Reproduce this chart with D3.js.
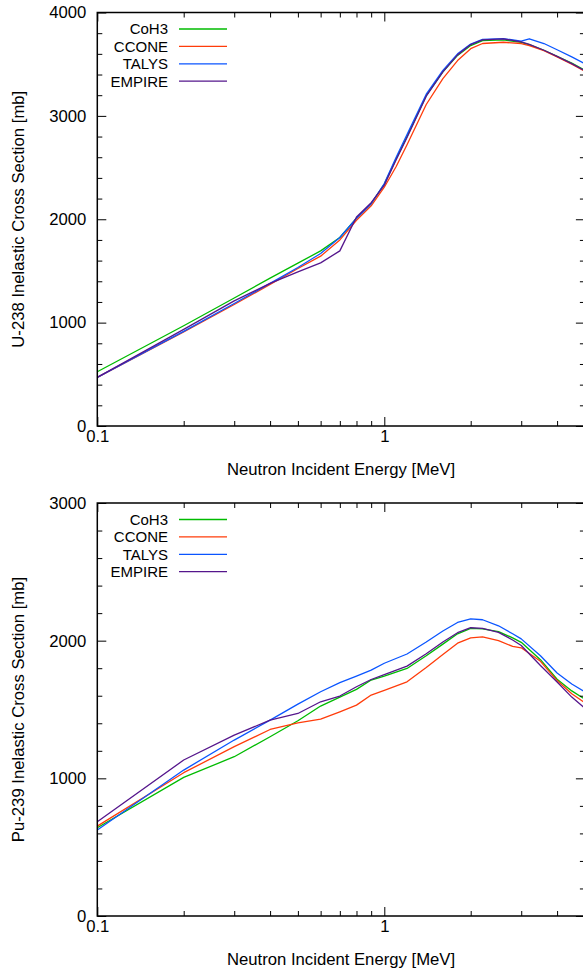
<!DOCTYPE html>
<html>
<head>
<meta charset="utf-8">
<script src="https://cdn.jsdelivr.net/npm/d3@7"></script>
<style>
  html, body { margin: 0; padding: 0; background: #fff; }
  svg { display: block; }
  text { font-family: "Liberation Sans", Arial, sans-serif; fill: #000; }
</style>
</head>
<body>
<svg id="chart" width="583" height="974"></svg>
<script>
// ---------------- DATA ----------------
const seriesNames = ["CoH3", "CCONE", "TALYS", "EMPIRE"];
const seriesColors = ["#00bb00", "#ff3c0a", "#0a55ff", "#55168c"];

// U-238 panel
const energyU238 = [0.1, 0.2, 0.3, 0.4, 0.5, 0.6, 0.7, 0.8, 0.9, 1.0, 1.1, 1.2, 1.4, 1.6, 1.8, 2.0, 2.2, 2.6, 3.0, 3.2, 3.6, 4.0, 4.5, 5.0];
const u238CoH3   = [525, 970, 1238, 1430, 1575, 1694, 1823, 2010, 2150, 2340, 2585, 2800, 3195, 3425, 3585, 3680, 3728, 3735, 3712, 3690, 3635, 3575, 3510, 3440];
const u238CCONE  = [470, 910, 1175, 1370, 1524, 1643, 1800, 1990, 2130, 2310, 2510, 2720, 3110, 3360, 3535, 3650, 3700, 3712, 3700, 3680, 3630, 3570, 3500, 3430];
const u238TALYS  = [470, 915, 1185, 1380, 1533, 1668, 1823, 2010, 2150, 2345, 2600, 2820, 3210, 3440, 3600, 3695, 3740, 3748, 3722, 3746, 3700, 3640, 3570, 3505];
const u238EMPIRE = [470, 935, 1211, 1380, 1490, 1578, 1694, 2022, 2160, 2330, 2575, 2790, 3190, 3425, 3590, 3690, 3735, 3745, 3715, 3692, 3635, 3575, 3505, 3435];

// Pu-239 panel
const energyPu239 = [0.1, 0.2, 0.3, 0.4, 0.5, 0.6, 0.7, 0.8, 0.9, 1.0, 1.2, 1.4, 1.6, 1.8, 2.0, 2.2, 2.5, 2.8, 3.0, 3.5, 4.0, 4.5, 5.0];
const pu239CoH3   = [641, 1007, 1157, 1302, 1418, 1525, 1590, 1646, 1714, 1743, 1798, 1890, 1975, 2050, 2089, 2085, 2066, 2020, 1988, 1862, 1720, 1635, 1575];
const pu239CCONE  = [653, 1041, 1230, 1355, 1403, 1430, 1483, 1532, 1605, 1639, 1701, 1805, 1900, 1982, 2021, 2027, 2000, 1958, 1948, 1850, 1710, 1615, 1548];
const pu239TALYS  = [625, 1060, 1278, 1423, 1539, 1629, 1695, 1743, 1786, 1836, 1903, 1990, 2070, 2132, 2159, 2152, 2108, 2050, 2013, 1890, 1765, 1685, 1628];
const pu239EMPIRE = [684, 1133, 1314, 1423, 1471, 1556, 1598, 1665, 1718, 1753, 1815, 1905, 1990, 2058, 2094, 2090, 2060, 2005, 1965, 1820, 1700, 1590, 1510];

// ticks
const xDomain = [0.1, 5];
const xMajorTicks = [0.1, 1];
const xMinorTicks = [0.2, 0.3, 0.4, 0.5, 0.6, 0.7, 0.8, 0.9, 2, 3, 4];
const yTicksU238 = [0, 1000, 2000, 3000, 4000];
const yTicksPu239 = [0, 1000, 2000, 3000];
const xTitle = "Neutron Incident Energy [MeV]";

// ---------------- DRAW ----------------
const svg = d3.select("#chart");
const L = 97.3, R = 584.9;
const FS = "16.7px";
const LEG_FS = "15px";

function panel(opts) {
  const { top, bottom, yMax, yTicks, energy, series, yTitle } = opts;
  const g = svg.append("g");
  const x = d3.scaleLog().domain(xDomain).range([L, R]);
  const y = d3.scaleLinear().domain([0, yMax]).range([bottom, top]);
  const yMinor = d3.range(0, yMax + 1, 200).filter(v => !yTicks.includes(v));

  // series lines
  const line = d3.line().x((d, i) => x(energy[i])).y(d => y(d));
  series.forEach((s, k) => {
    g.append("path")
      .datum(s)
      .attr("d", line)
      .attr("fill", "none")
      .attr("stroke", seriesColors[k])
      .attr("stroke-width", 1.3)
      .attr("stroke-linejoin", "round");
  });

  const styleAxis = sel => {
    sel.select(".domain").remove();
    sel.selectAll(".tick line").attr("stroke", "#000").attr("stroke-width", 1);
    sel.selectAll(".tick text").style("font-size", FS).attr("fill", "#000");
  };

  // bottom axis
  g.append("g").attr("transform", `translate(0,${bottom})`)
    .call(d3.axisBottom(x).tickValues(xMajorTicks).tickSize(-9).tickPadding(4)
      .tickFormat(d => d === 1 ? "1" : "0.1"))
    .call(styleAxis);
  g.append("g").attr("transform", `translate(0,${bottom})`)
    .call(d3.axisBottom(x).tickValues(xMinorTicks).tickSize(-5).tickFormat(""))
    .call(styleAxis);
  // top axis
  g.append("g").attr("transform", `translate(0,${top})`)
    .call(d3.axisTop(x).tickValues(xMajorTicks).tickSize(-9).tickFormat(""))
    .call(styleAxis);
  g.append("g").attr("transform", `translate(0,${top})`)
    .call(d3.axisTop(x).tickValues(xMinorTicks).tickSize(-5).tickFormat(""))
    .call(styleAxis);
  // left axis
  g.append("g").attr("transform", `translate(${L},0)`)
    .call(d3.axisLeft(y).tickValues(yTicks).tickSize(-9).tickPadding(11).tickFormat(d3.format("d")))
    .call(styleAxis);
  g.append("g").attr("transform", `translate(${L},0)`)
    .call(d3.axisLeft(y).tickValues(yMinor).tickSize(-5).tickFormat(""))
    .call(styleAxis);
  // right axis
  g.append("g").attr("transform", `translate(${R},0)`)
    .call(d3.axisRight(y).tickValues(yTicks).tickSize(-9).tickFormat(""))
    .call(styleAxis);
  g.append("g").attr("transform", `translate(${R},0)`)
    .call(d3.axisRight(y).tickValues(yMinor).tickSize(-5).tickFormat(""))
    .call(styleAxis);

  // frame
  g.append("rect").attr("x", L).attr("y", top).attr("width", R - L).attr("height", bottom - top)
    .attr("fill", "none").attr("stroke", "#000").attr("stroke-width", 1.5);

  // titles
  g.append("text").attr("x", 341).attr("y", bottom + 49)
    .attr("text-anchor", "middle").style("font-size", FS).text(xTitle);
  g.append("text")
    .attr("transform", `translate(24,${(top + bottom) / 2}) rotate(-90)`)
    .attr("text-anchor", "middle").style("font-size", FS).text(yTitle);

  // legend
  seriesNames.forEach((n, k) => {
    const ly = top + 16.5 + k * 17.4;
    g.append("text").attr("x", 168).attr("y", ly).attr("dy", "0.36em")
      .attr("text-anchor", "end").style("font-size", LEG_FS).text(n);
    g.append("line").attr("x1", 179).attr("x2", 227).attr("y1", ly).attr("y2", ly)
      .attr("stroke", seriesColors[k]).attr("stroke-width", 1.3);
  });
}

panel({ top: 12.5, bottom: 426, yMax: 4000, yTicks: yTicksU238, energy: energyU238,
  series: [u238CoH3, u238CCONE, u238TALYS, u238EMPIRE],
  yTitle: "U-238 Inelastic Cross Section [mb]" });
panel({ top: 503, bottom: 916, yMax: 3000, yTicks: yTicksPu239, energy: energyPu239,
  series: [pu239CoH3, pu239CCONE, pu239TALYS, pu239EMPIRE],
  yTitle: "Pu-239 Inelastic Cross Section [mb]" });
</script>
</body>
</html>
